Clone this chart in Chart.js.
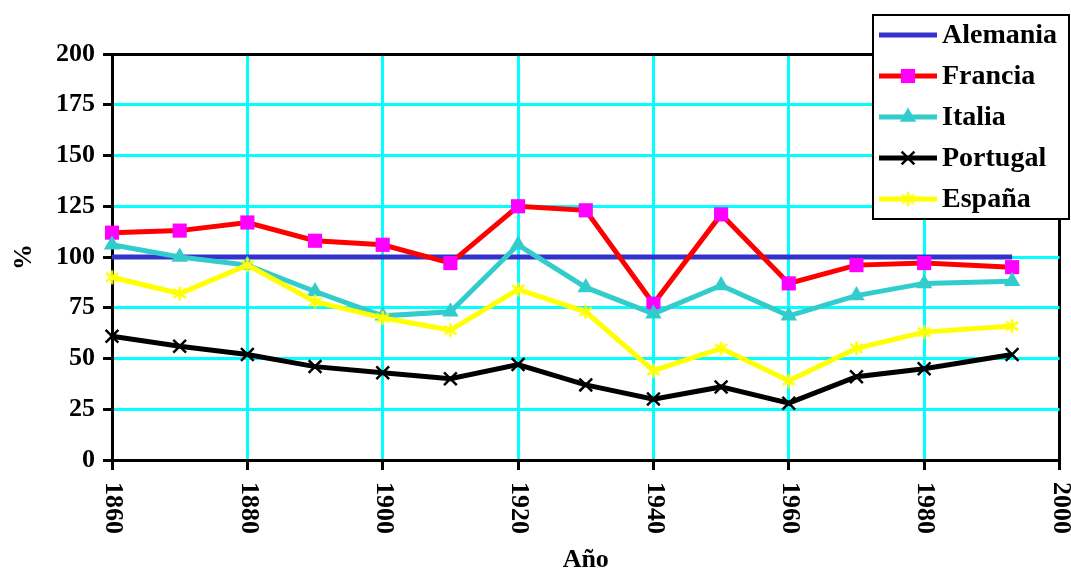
<!DOCTYPE html>
<html>
<head>
<meta charset="utf-8">
<script src="https://cdn.jsdelivr.net/npm/chart.js@4/dist/chart.umd.min.js"></script>
<style>
  html, body { margin: 0; padding: 0; background: #fff; overflow: hidden; }
  #wrap { width: 1071px; height: 570px; position: relative; }
  #chartLines { display: block; }
</style>
</head>
<body>
<div id="wrap"><canvas id="chartLines"></canvas></div>
<script>
// DATOS - indice sobre Alemania = 100
var years    = [1860, 1870, 1880, 1890, 1900, 1910, 1920, 1930, 1940, 1950, 1960, 1970, 1980, 1993];
var alemania = [100, 100, 100, 100, 100, 100, 100, 100, 100, 100, 100, 100, 100, 100];
var francia  = [112, 113, 117, 108, 106, 97, 125, 123, 77, 121, 87, 96, 97, 95];
var italia   = [106, 100, 96, 83, 71, 73, 106, 85, 72, 86, 71, 81, 87, 88];
var portugal = [61, 56, 52, 46, 43, 40, 47, 37, 30, 36, 28, 41, 45, 52];
var espana   = [90, 82, 96, 78, 70, 64, 84, 73, 44, 55, 39, 55, 63, 66];
var yTicks   = [0, 25, 50, 75, 100, 125, 150, 175, 200];
var xTicks   = [1860, 1880, 1900, 1920, 1940, 1960, 1980, 2000];

var FONT = '"Liberation Serif", "Times New Roman", serif';

// asterisco amarillo (x + linea vertical)
function makeAsterisk(color, size) {
  var c = document.createElement('canvas');
  c.width = size; c.height = size;
  var g = c.getContext('2d');
  var m = size / 2, r = size / 2 - 1.5;
  g.strokeStyle = color;
  g.lineWidth = 2.5;
  g.beginPath();
  g.moveTo(m, m - r); g.lineTo(m, m + r);
  g.moveTo(m - r * 0.87, m - r * 0.6); g.lineTo(m + r * 0.87, m + r * 0.6);
  g.moveTo(m - r * 0.87, m + r * 0.6); g.lineTo(m + r * 0.87, m - r * 0.6);
  g.stroke();
  return c;
}
var asterisk = makeAsterisk('#FFFF00', 17);

function pts(vals) {
  return years.map(function (y, i) { return { x: y, y: vals[i] }; });
}

var series = [
  { label: 'Alemania', data: alemania, line: '#3333CC', mark: '#3333CC', style: false, radius: 0, bw: 0 },
  { label: 'Francia',  data: francia,  line: '#FF0000', mark: '#FF00FF', style: 'rect', radius: 10, bw: 0 },
  { label: 'Italia',   data: italia,   line: '#33CCCC', mark: '#33CCCC', style: 'triangle', radius: 9.5, bw: 0 },
  { label: 'Portugal', data: portugal, line: '#000000', mark: '#000000', style: 'crossRot', radius: 9, bw: 2.5 },
  { label: 'España',   data: espana,   line: '#FFFF00', mark: '#FFFF00', style: asterisk, radius: 8, bw: 0 }
];

var datasets = series.map(function (s, i) {
  return {
    label: s.label,
    data: pts(s.data),
    borderColor: s.line,
    borderWidth: 5,
    backgroundColor: s.mark,
    pointStyle: s.style,
    pointRadius: s.radius,
    pointBorderWidth: s.bw,
    pointBorderColor: s.mark,
    pointBackgroundColor: s.mark,
    tension: 0,
    clip: false,
    order: series.length - i
  };
});

// etiquetas del eje X giradas + leyenda dentro del grafico
var extras = {
  id: 'extras',
  afterDraw: function (chart) {
    var ctx = chart.ctx;
    var xs = chart.scales.x;
    var bottom = chart.chartArea.bottom;

    ctx.save();
    ctx.fillStyle = '#000';
    ctx.font = 'bold 26px ' + FONT;
    ctx.textAlign = 'left';
    ctx.textBaseline = 'middle';
    xTicks.forEach(function (v) {
      var px = xs.getPixelForValue(v);
      ctx.save();
      ctx.translate(px + 1, bottom + 22);
      ctx.rotate(Math.PI / 2);
      ctx.fillText(String(v), 0, 0);
      ctx.restore();
    });
    ctx.restore();

    // LEYENDA
    var bx = 873, by = 15, bw = 196, bh = 204;
    ctx.save();
    ctx.fillStyle = '#fff';
    ctx.fillRect(bx, by, bw, bh);
    ctx.lineWidth = 2;
    ctx.strokeStyle = '#000';
    ctx.strokeRect(bx, by, bw, bh);
    series.forEach(function (s, i) {
      var cy = 35 + i * 41;
      ctx.beginPath();
      ctx.strokeStyle = s.line;
      ctx.lineWidth = 5;
      ctx.moveTo(879, cy);
      ctx.lineTo(937, cy);
      ctx.stroke();
      if (s.style && Chart.helpers && Chart.helpers.drawPoint) {
        ctx.fillStyle = s.mark;
        ctx.strokeStyle = s.mark;
        ctx.lineWidth = s.bw;
        Chart.helpers.drawPoint(ctx, { pointStyle: s.style, radius: s.radius, borderWidth: s.bw, rotation: 0 }, 908, cy);
      }
      ctx.fillStyle = '#000';
      ctx.font = 'bold 28px ' + FONT;
      ctx.textAlign = 'left';
      ctx.textBaseline = 'middle';
      ctx.fillText(s.label, 942, cy + 1);
    });
    ctx.restore();
  }
};

new Chart(document.getElementById('chartLines'), {
  type: 'line',
  data: { datasets: datasets },
  options: {
    responsive: true,
    maintainAspectRatio: false,
    animation: false,
    layout: { padding: { left: 0, top: 54, right: 8, bottom: 0 } },
    plugins: {
      legend: { display: false },
      tooltip: { enabled: false }
    },
    scales: {
      x: {
        type: 'linear',
        min: 1860,
        max: 2000,
        afterBuildTicks: function (scale) {
          scale.ticks = xTicks.map(function (v) { return { value: v }; });
        },
        afterFit: function (scale) { scale.height = 110; },
        ticks: { display: false },
        grid: {
          color: function (c) { return c.tick && (c.tick.value === 1860 || c.tick.value === 2000) ? '#000' : '#00FFFF'; },
          lineWidth: 3,
          tickColor: '#000',
          tickWidth: 3,
          tickLength: 10
        },
        border: { color: '#000', width: 3 },
        title: {
          display: true,
          text: 'Año',
          color: '#000',
          font: { family: FONT, size: 26, weight: 'bold' },
          padding: { top: 0, bottom: -6 }
        }
      },
      y: {
        min: 0,
        max: 200,
        afterBuildTicks: function (scale) {
          scale.ticks = yTicks.map(function (v) { return { value: v }; });
        },
        afterFit: function (scale) { scale.width = 112; },
        ticks: {
          color: '#000',
          padding: 8,
          font: { family: FONT, size: 26, weight: 'bold' }
        },
        grid: {
          color: function (c) { return c.tick && (c.tick.value === 0 || c.tick.value === 200) ? '#000' : '#00FFFF'; },
          lineWidth: 3,
          tickColor: '#000',
          tickWidth: 3,
          tickLength: 9
        },
        border: { color: '#000', width: 3 },
        title: {
          display: true,
          text: '%',
          color: '#000',
          font: { family: FONT, size: 26, weight: 'bold' },
          padding: { top: 9, bottom: 0 }
        }
      }
    }
  },
  plugins: [extras]
});
</script>
</body>
</html>
